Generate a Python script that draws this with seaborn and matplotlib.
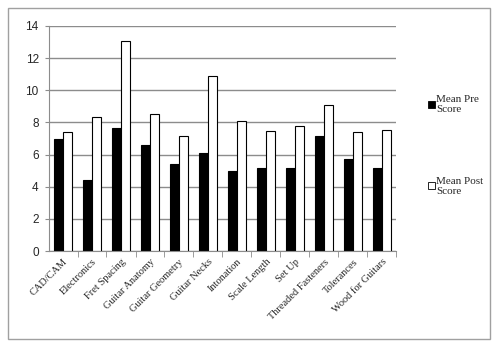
import pandas as pd
import seaborn as sns
import matplotlib.pyplot as plt
from matplotlib.patches import Rectangle, Patch

# Dados
topicos = ['CAD/CAM', 'Electronics', 'Fret Spacing', 'Guitar Anatomy', 'Guitar Geometry',
           'Guitar Necks', 'Intonation', 'Scale Length', 'Set Up', 'Threaded Fasteners',
           'Tolerances', 'Wood for Guitars']
pre_score = [7.0, 4.4, 7.68, 6.6, 5.44, 6.12, 5.0, 5.19, 5.19, 7.18, 5.75, 5.15]
post_score = [7.43, 8.32, 13.05, 8.55, 7.16, 10.89, 8.11, 7.49, 7.76, 9.09, 7.39, 7.55]
series = ['Mean Pre Score', 'Mean Post Score']

df = pd.DataFrame({'topico': topicos, series[0]: pre_score, series[1]: post_score})
df_long = df.melt(id_vars='topico', var_name='serie', value_name='score')

sns.set_style('white')
fig = plt.figure(figsize=(5, 3.52), dpi=100)
ax = fig.add_axes([48.5 / 500, 1 - 251 / 352, 348 / 500, 225 / 352])

sns.barplot(
    data=df_long,
    x='topico',
    y='score',
    hue='serie',
    palette=['black', 'white'],
    edgecolor='black',
    linewidth=0.8,
    width=0.6,
    gap=0,
    ax=ax,
    legend=False,
)

ax.set_ylim(0, 14)
ax.set_yticks(range(0, 15, 2))
ax.set_xlim(-0.5, len(topicos) - 0.5)
ax.set_xlabel('')
ax.set_ylabel('')
ax.yaxis.grid(True, color='#8c8c8c', linewidth=1)
ax.set_axisbelow(True)

for lado in ['top', 'right']:
    ax.spines[lado].set_visible(False)
ax.spines['left'].set_color('#8c8c8c')
ax.spines['bottom'].set_color('#8c8c8c')

ax.tick_params(axis='y', left=True, length=3, color='#8c8c8c', labelsize=8.5, pad=4)
for t in ax.get_yticklabels():
    t.set_fontfamily('Liberation Sans')

# ticks do eixo x entre as categorias
ax.set_xticks([i + 0.5 for i in range(len(topicos))], minor=True)
ax.tick_params(axis='x', which='minor', bottom=True, length=4, color='#8c8c8c')
ax.tick_params(axis='x', which='major', bottom=False, pad=1)
ax.set_xticks(range(len(topicos)))
ax.set_xticklabels(topicos, rotation=45, ha='right', rotation_mode='anchor',
                   fontsize=7.5, fontfamily='Liberation Serif')

# legenda
handles = [Patch(facecolor='black', edgecolor='black', linewidth=0.6),
           Patch(facecolor='white', edgecolor='black', linewidth=0.6)]
fig.legend(handles, ['Mean Pre\nScore', 'Mean Post\nScore'],
           loc='upper left', bbox_to_anchor=(418 / 500, 1 - 85 / 352),
           frameon=False, handlelength=0.6, handleheight=0.6, handletextpad=0.15,
           labelspacing=5.6, prop={'family': 'Liberation Serif', 'size': 8})

# borda externa
fig.patches.append(Rectangle((8 / 500, 1 - 339 / 352), 482 / 500, 331 / 352,
                             transform=fig.transFigure, fill=False,
                             edgecolor='#a0a0a0', linewidth=1))

plt.savefig('out.png', dpi=100)
